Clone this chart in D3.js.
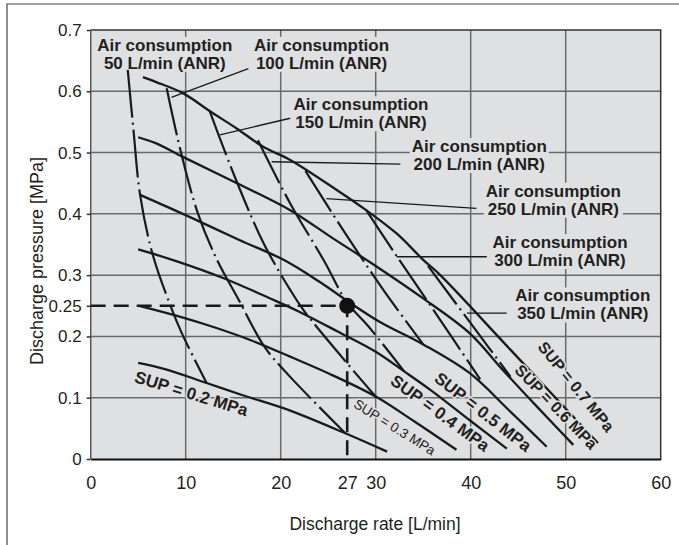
<!DOCTYPE html>
<html>
<head>
<meta charset="utf-8">
<script src="https://cdn.jsdelivr.net/npm/d3@7"></script>
<style>
body { margin: 0; background: #fff; }
text { font-family: "Liberation Sans", Arial, sans-serif; fill: #231f20; }
</style>
</head>
<body>
<div id="chart"></div>
<script>
"use strict";
(function() {

const WIDTH = 679
const HEIGHT = 545
const margin = { top: 30, bottom: 86, left: 90.7, right: 18.3 }
const BG = '#dfe0e2'

// ticks
const xTicks = [0, 10, 20, 27, 30, 40, 50, 60]
const yTicks = [0, 0.1, 0.2, 0.25, 0.3, 0.4, 0.5, 0.6, 0.7]
const xGrid = [10, 20, 30, 40, 50]
const yGrid = [0.1, 0.2, 0.3, 0.4, 0.5, 0.6]

// supply pressure curves [L/min, MPa]
const supNames = ['0.2', '0.3', '0.4', '0.5', '0.6', '0.7']
const sup02 = [[5,0.157],[8,0.146],[12.2,0.124],[16,0.104],[21,0.079],[26.8,0.042],[31.2,0.012]]
const sup03 = [[5.1,0.25],[9,0.234],[13,0.215],[17,0.193],[21,0.167],[25,0.14],[30,0.102],[34,0.062],[38.5,0.015]]
const sup04 = [[5,0.342],[9,0.323],[14,0.295],[18.9,0.262],[22,0.24],[26,0.208],[30,0.175],[33,0.143],[36,0.11],[40,0.062],[43.8,0.017]]
const sup05 = [[5.2,0.431],[10.4,0.395],[15.7,0.357],[20.3,0.325],[24,0.29],[27,0.258],[30.4,0.224],[35,0.187],[39.9,0.14],[44,0.08],[48,0.02]]
const sup06 = [[5,0.525],[6.9,0.515],[9.7,0.493],[15.4,0.45],[21,0.406],[25.5,0.36],[30,0.315],[35,0.262],[39.9,0.205],[43.4,0.145],[47,0.085],[50.8,0.023]]
const sup07 = [[5.5,0.623],[6.9,0.615],[9.7,0.597],[12.6,0.567],[15.4,0.539],[18.2,0.509],[21,0.488],[25.9,0.439],[29,0.406],[32.2,0.368],[35,0.325],[36.8,0.3],[44.2,0.178],[53.4,0.026]]
const supCurves = [sup02, sup03, sup04, sup05, sup06, sup07]

// air consumption curves [L/min, MPa]
const airNames = ['50', '100', '150', '200', '250', '300', '350']
const air50 = [[3.9,0.635],[4.5,0.537],[5.2,0.431],[6.5,0.335],[8.4,0.25],[9.6,0.205],[12.2,0.124]]
const air100 = [[8,0.605],[9.4,0.507],[11.3,0.4],[13.3,0.325],[15.5,0.262],[18.3,0.183],[21,0.134],[26.8,0.042]]
const air150 = [[12.5,0.569],[15.1,0.463],[18.2,0.352],[21,0.276],[22.4,0.243],[26.4,0.167],[30.1,0.1]]
const air200 = [[17.6,0.52],[21,0.417],[24.5,0.325],[27,0.255],[29.2,0.217],[33,0.143]]
const air250 = [[22.6,0.47],[26.8,0.368],[30.8,0.276],[35,0.187]]
const air300 = [[29,0.406],[32,0.336],[36,0.245],[41,0.13]]
const air350 = [[35.5,0.315],[40.6,0.209],[44.2,0.134]]
const airCurves = [air50, air100, air150, air200, air250, air300, air350]

// operating point example
const pointFlow = 27
const pointPressure = 0.25

// label layout: centre x, first baseline y, leader from / to (data units)
const airLabelAt = [[7.8,0.666],[24.3,0.666],[28.45,0.569],[40.9,0.501],[48.7,0.428],[49.4,0.344],[51.8,0.257]]
const airLeaders = [null,
    [[8.5,0.59],[16.6,0.637]],
    [[13.6,0.529],[21,0.556]],
    [[19.05,0.485],[32.6,0.481]],
    [[24.8,0.425],[40.6,0.409]],
    [[32.2,0.33],[41.7,0.33]],
    [[39.6,0.238],[43.8,0.238]]]
// SUP labels: centre, angle, font size, weight
const supLabelAt = [[10.6,0.107,17,17,'bold'],[32,0.052,32,13.5,'normal'],[36.8,0.075,36,17,'bold'],
    [41.3,0.077,38,17,'bold'],[49,0.085,46,16,'bold'],[51.1,0.118,51,16,'bold']]

const svg = d3.select('#chart').append('svg')
    .attr('width', WIDTH)
    .attr('height', HEIGHT)

// outer frame
svg.append('path')
    .attr('d', `M7,${HEIGHT} V4 H${WIDTH}`)
    .attr('fill', 'none')
    .attr('stroke', '#444')
    .attr('stroke-width', 1.2)

let x = d3.scaleLinear().domain([0, 60]).range([margin.left, WIDTH - margin.right])
let y = d3.scaleLinear().domain([0, 0.7]).range([HEIGHT - margin.bottom, margin.top])

const main = svg.append('g')

main.append('rect')
    .attr('x', x(0)).attr('y', y(0.7))
    .attr('width', x(60) - x(0)).attr('height', y(0) - y(0.7))
    .attr('fill', BG)

// grid
main.selectAll('.gx').data(xGrid).enter().append('line')
    .attr('x1', d => x(d)).attr('x2', d => x(d))
    .attr('y1', y(0)).attr('y2', y(0.7))
    .attr('stroke', '#6a6a6a').attr('stroke-width', 1.5)
main.selectAll('.gy').data(yGrid).enter().append('line')
    .attr('x1', x(0)).attr('x2', x(60))
    .attr('y1', d => y(d)).attr('y2', d => y(d))
    .attr('stroke', '#6a6a6a').attr('stroke-width', 1.5)

// frame of plot
main.append('path')
    .attr('d', `M${x(0)},${y(0.7)} H${x(60)} V${y(0)}`)
    .attr('fill', 'none').attr('stroke', '#333').attr('stroke-width', 1.5)
main.append('line')
    .attr('x1', x(0)).attr('x2', x(0)).attr('y1', y(0)).attr('y2', y(0.7))
    .attr('stroke', '#555').attr('stroke-width', 1.5)

// axes
const xAxis = main.append('g')
    .attr('transform', `translate(0, ${y(0)})`)
    .call(d3.axisBottom(x).tickValues(xTicks).tickFormat(d3.format('d')).tickSize(0).tickPadding(17))
xAxis.select('.domain').attr('stroke', '#111').attr('stroke-width', 2)
xAxis.selectAll('text').attr('font-size', '18px').attr('font-family', '"Liberation Sans", Arial, sans-serif').attr('fill', '#231f20')

const yAxis = main.append('g')
    .attr('transform', `translate(${x(0)}, 0)`)
    .call(d3.axisLeft(y).tickValues(yTicks).tickFormat(d => d === 0 ? '0' : String(d)).tickSize(4).tickPadding(5))
yAxis.select('.domain').remove()
yAxis.selectAll('line').attr('stroke', '#333').attr('stroke-width', 1.5)
yAxis.selectAll('text').attr('font-size', '17px').attr('font-family', '"Liberation Sans", Arial, sans-serif').attr('fill', '#231f20')

// axis labels
svg.append('text').text('Discharge rate [L/min]')
    .attr('x', 375).attr('y', 530)
    .attr('text-anchor', 'middle').attr('font-size', '17.5px')
svg.append('text').text('Discharge pressure [MPa]')
    .attr('transform', `translate(43, 261) rotate(-90)`)
    .attr('text-anchor', 'middle').attr('font-size', '18px')

// air consumption labels with backing boxes
const labels = main.append('g')
airNames.forEach((n, i) => {
    const g = labels.append('g')
    const t = g.append('text')
        .attr('x', x(airLabelAt[i][0])).attr('y', y(airLabelAt[i][1]))
        .attr('text-anchor', 'middle').attr('font-size', '17px').attr('font-weight', 'bold')
    t.append('tspan').text('Air consumption')
    t.append('tspan').text(`${n} L/min (ANR)`)
        .attr('x', x(airLabelAt[i][0])).attr('dy', 18)
    const b = t.node().getBBox()
    g.insert('rect', 'text')
        .attr('x', b.x - 2).attr('y', b.y + 1)
        .attr('width', b.width + 4).attr('height', b.height - 2)
        .attr('fill', BG)
})

// dashed guide lines to the operating point
main.append('path')
    .attr('d', `M${x(0)},${y(pointPressure)} H${x(pointFlow)} V${y(0)}`)
    .attr('fill', 'none').attr('stroke', '#1a1a1a')
    .attr('stroke-width', 2.6).attr('stroke-dasharray', '15,8')

const line = d3.line()
    .x(d => x(d[0]))
    .y(d => y(d[1]))
    .curve(d3.curveCatmullRom.alpha(0.5))

main.selectAll('.air').data(airCurves).enter().append('path')
    .attr('d', line)
    .attr('fill', 'none').attr('stroke', '#1a1a1a')
    .attr('stroke-width', 2.2).attr('stroke-dasharray', '48,5,2,5')

main.selectAll('.sup').data(supCurves).enter().append('path')
    .attr('d', line)
    .attr('fill', 'none').attr('stroke', '#1a1a1a')
    .attr('stroke-width', 2.3)

// leaders
main.selectAll('.leader').data(airLeaders.filter(d => d)).enter().append('line')
    .attr('x1', d => x(d[0][0])).attr('y1', d => y(d[0][1]))
    .attr('x2', d => x(d[1][0])).attr('y2', d => y(d[1][1]))
    .attr('stroke', '#1a1a1a').attr('stroke-width', 1.3)

main.append('circle')
    .attr('cx', x(pointFlow)).attr('cy', y(pointPressure))
    .attr('r', 8).attr('fill', '#111')

// SUP labels
supNames.forEach((n, i) => {
    const p = supLabelAt[i]
    main.append('text').text(`SUP = ${n} MPa`)
        .attr('transform', `translate(${x(p[0])}, ${y(p[1])}) rotate(${p[2]})`)
        .attr('text-anchor', 'middle').attr('dy', '0.35em')
        .attr('font-size', p[3] + 'px').attr('font-weight', p[4])
        .attr('stroke', BG).attr('stroke-width', 3).attr('paint-order', 'stroke')
})

})();
</script>
</body>
</html>
